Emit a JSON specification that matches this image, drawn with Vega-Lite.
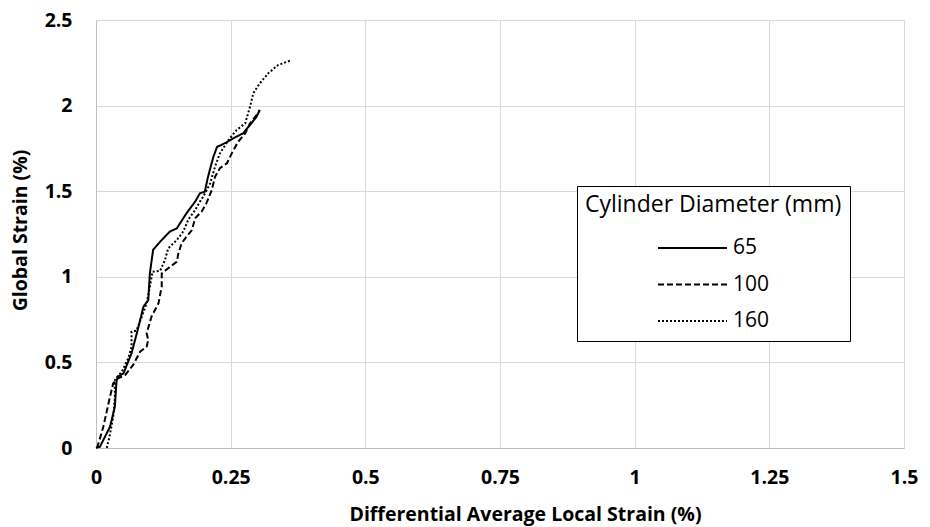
{
  "$schema": "https://vega.github.io/schema/vega-lite/v6.json",
  "width": 808,
  "height": 428,
  "autosize": {"type": "none"},
  "padding": {"left": 96, "top": 20, "right": 26, "bottom": 79},
  "background": "white",
  "config": {"view": {"stroke": null}, "font": "Open Sans"},
  "data": {"values": [
    {"d": "65", "x": 0, "y": 0},
    {"d": "65", "x": 0.0074, "y": 0.008},
    {"d": "65", "x": 0.026, "y": 0.124},
    {"d": "65", "x": 0.035, "y": 0.241},
    {"d": "65", "x": 0.038, "y": 0.387},
    {"d": "65", "x": 0.040, "y": 0.416},
    {"d": "65", "x": 0.051, "y": 0.436},
    {"d": "65", "x": 0.066, "y": 0.553},
    {"d": "65", "x": 0.079, "y": 0.709},
    {"d": "65", "x": 0.088, "y": 0.825},
    {"d": "65", "x": 0.097, "y": 0.864},
    {"d": "65", "x": 0.100, "y": 1.020},
    {"d": "65", "x": 0.106, "y": 1.157},
    {"d": "65", "x": 0.119, "y": 1.205},
    {"d": "65", "x": 0.137, "y": 1.264},
    {"d": "65", "x": 0.150, "y": 1.283},
    {"d": "65", "x": 0.168, "y": 1.371},
    {"d": "65", "x": 0.184, "y": 1.439},
    {"d": "65", "x": 0.193, "y": 1.488},
    {"d": "65", "x": 0.202, "y": 1.497},
    {"d": "65", "x": 0.208, "y": 1.585},
    {"d": "65", "x": 0.218, "y": 1.702},
    {"d": "65", "x": 0.225, "y": 1.760},
    {"d": "65", "x": 0.233, "y": 1.770},
    {"d": "65", "x": 0.255, "y": 1.809},
    {"d": "65", "x": 0.273, "y": 1.838},
    {"d": "65", "x": 0.286, "y": 1.887},
    {"d": "65", "x": 0.298, "y": 1.935},
    {"d": "65", "x": 0.304, "y": 1.974},
    {"d": "100", "x": 0.002, "y": 0},
    {"d": "100", "x": 0.0136, "y": 0.124},
    {"d": "100", "x": 0.026, "y": 0.300},
    {"d": "100", "x": 0.032, "y": 0.378},
    {"d": "100", "x": 0.041, "y": 0.407},
    {"d": "100", "x": 0.054, "y": 0.426},
    {"d": "100", "x": 0.069, "y": 0.485},
    {"d": "100", "x": 0.082, "y": 0.563},
    {"d": "100", "x": 0.094, "y": 0.592},
    {"d": "100", "x": 0.097, "y": 0.631},
    {"d": "100", "x": 0.094, "y": 0.670},
    {"d": "100", "x": 0.103, "y": 0.767},
    {"d": "100", "x": 0.116, "y": 0.845},
    {"d": "100", "x": 0.122, "y": 0.942},
    {"d": "100", "x": 0.122, "y": 1.020},
    {"d": "100", "x": 0.134, "y": 1.050},
    {"d": "100", "x": 0.150, "y": 1.088},
    {"d": "100", "x": 0.153, "y": 1.137},
    {"d": "100", "x": 0.159, "y": 1.196},
    {"d": "100", "x": 0.168, "y": 1.234},
    {"d": "100", "x": 0.178, "y": 1.273},
    {"d": "100", "x": 0.184, "y": 1.342},
    {"d": "100", "x": 0.196, "y": 1.380},
    {"d": "100", "x": 0.205, "y": 1.430},
    {"d": "100", "x": 0.215, "y": 1.507},
    {"d": "100", "x": 0.221, "y": 1.585},
    {"d": "100", "x": 0.230, "y": 1.634},
    {"d": "100", "x": 0.243, "y": 1.663},
    {"d": "100", "x": 0.252, "y": 1.721},
    {"d": "100", "x": 0.264, "y": 1.789},
    {"d": "100", "x": 0.277, "y": 1.838},
    {"d": "100", "x": 0.286, "y": 1.897},
    {"d": "100", "x": 0.298, "y": 1.945},
    {"d": "100", "x": 0.304, "y": 1.974},
    {"d": "160", "x": 0.020, "y": 0},
    {"d": "160", "x": 0.025, "y": 0.066},
    {"d": "160", "x": 0.032, "y": 0.183},
    {"d": "160", "x": 0.035, "y": 0.300},
    {"d": "160", "x": 0.035, "y": 0.397},
    {"d": "160", "x": 0.048, "y": 0.446},
    {"d": "160", "x": 0.060, "y": 0.524},
    {"d": "160", "x": 0.066, "y": 0.592},
    {"d": "160", "x": 0.066, "y": 0.679},
    {"d": "160", "x": 0.075, "y": 0.685},
    {"d": "160", "x": 0.085, "y": 0.767},
    {"d": "160", "x": 0.094, "y": 0.845},
    {"d": "160", "x": 0.100, "y": 0.942},
    {"d": "160", "x": 0.105, "y": 1.030},
    {"d": "160", "x": 0.119, "y": 1.035},
    {"d": "160", "x": 0.128, "y": 1.098},
    {"d": "160", "x": 0.134, "y": 1.166},
    {"d": "160", "x": 0.150, "y": 1.215},
    {"d": "160", "x": 0.162, "y": 1.264},
    {"d": "160", "x": 0.171, "y": 1.332},
    {"d": "160", "x": 0.184, "y": 1.390},
    {"d": "160", "x": 0.193, "y": 1.439},
    {"d": "160", "x": 0.199, "y": 1.468},
    {"d": "160", "x": 0.212, "y": 1.546},
    {"d": "160", "x": 0.221, "y": 1.643},
    {"d": "160", "x": 0.230, "y": 1.721},
    {"d": "160", "x": 0.246, "y": 1.799},
    {"d": "160", "x": 0.261, "y": 1.857},
    {"d": "160", "x": 0.277, "y": 1.897},
    {"d": "160", "x": 0.286, "y": 1.994},
    {"d": "160", "x": 0.292, "y": 2.072},
    {"d": "160", "x": 0.304, "y": 2.130},
    {"d": "160", "x": 0.320, "y": 2.189},
    {"d": "160", "x": 0.338, "y": 2.237},
    {"d": "160", "x": 0.360, "y": 2.262}
  ]},
  "mark": {"type": "line", "strokeWidth": 2, "color": "black"},
  "encoding": {
    "x": {
      "field": "x", "type": "quantitative",
      "scale": {"domain": [0, 1.5], "nice": false},
      "axis": {
        "values": [0, 0.25, 0.5, 0.75, 1, 1.25, 1.5],
        "format": ".3~g",
        "title": "Differential Average Local Strain (%)",
        "grid": true, "gridColor": "#d9d9d9", "gridWidth": 1,
        "domainColor": "#bfbfbf", "domainWidth": 1,
        "ticks": false,
        "labelFontWeight": "bold", "labelFontSize": 19.5, "labelColor": "black",
        "labelPadding": 20, "labelFlush": false,
        "titleFontSize": 19.5, "titleFontWeight": "bold", "titleColor": "black",
        "titleX": 429, "titleY": 72, "titleAlign": "center", "titleBaseline": "alphabetic"
      }
    },
    "y": {
      "field": "y", "type": "quantitative",
      "scale": {"domain": [0, 2.5], "nice": false},
      "axis": {
        "values": [0, 0.5, 1, 1.5, 2, 2.5],
        "format": ".3~g",
        "title": "Global Strain (%)",
        "grid": true, "gridColor": "#d9d9d9", "gridWidth": 1,
        "domainColor": "#bfbfbf", "domainWidth": 1,
        "ticks": false,
        "labelFontWeight": "bold", "labelFontSize": 19.5, "labelColor": "black",
        "labelPadding": 24,
        "titleFontSize": 19.5, "titleFontWeight": "bold", "titleColor": "black",
        "titleX": -76, "titleY": 210, "titleAngle": -90, "titleAlign": "center", "titleBaseline": "middle"
      }
    },
    "strokeDash": {
      "field": "d", "type": "nominal",
      "scale": {"domain": ["65", "100", "160"], "range": [[1, 0], [6, 3], [2, 2]]},
      "legend": {
        "title": "Cylinder Diameter (mm)",
        "orient": "none", "legendX": 481, "legendY": 166,
        "strokeColor": "black", "fillColor": "white", "padding": 8,
        "titleFontSize": 23, "titleFontWeight": "normal", "titleColor": "black",
        "titleLimit": 400, "titlePadding": 19,
        "labelFontSize": 21, "labelColor": "black", "labelOffset": 5,
        "symbolType": "stroke", "symbolSize": 4761, "symbolStrokeWidth": 2,
        "symbolStrokeColor": "black", "symbolOffset": 72,
        "clipHeight": 24, "rowPadding": 12.5
      }
    },
    "order": {"field": "y", "type": "quantitative"}
  }
}
